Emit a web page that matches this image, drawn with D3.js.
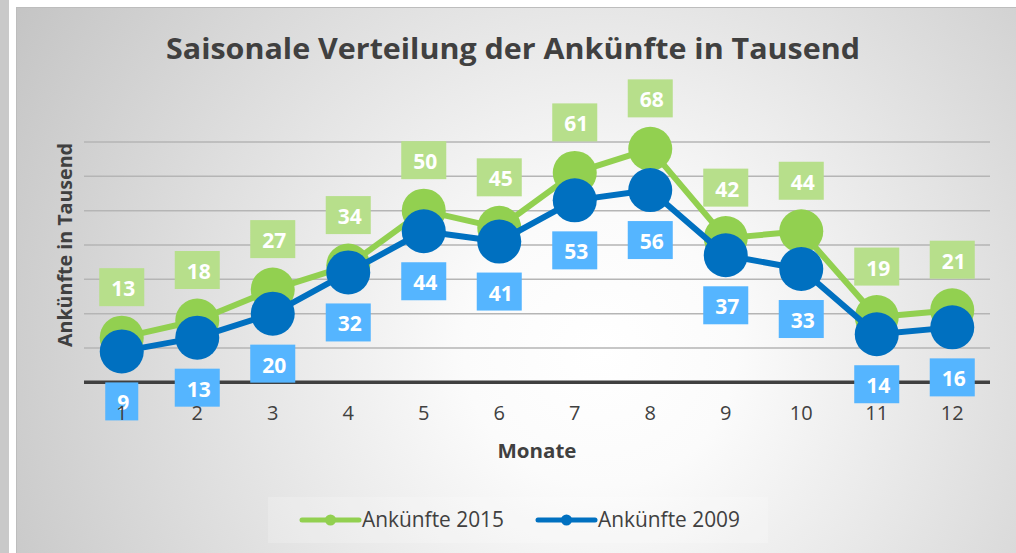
<!DOCTYPE html>
<html><head><meta charset="utf-8">
<script src="https://cdn.jsdelivr.net/npm/d3@7/dist/d3.min.js"></script>
<style>html,body{margin:0;padding:0;background:#fff;overflow:hidden}svg{display:block}</style>
</head><body>
<svg id="c" width="1016" height="553"></svg>
<script>
const months = [1,2,3,4,5,6,7,8,9,10,11,12];
const values2015 = [13,18,27,34,50,45,61,68,42,44,19,21];
const values2009 = [9,13,20,32,44,41,53,56,37,33,14,16];
const seriesNames = ["Ankünfte 2015","Ankünfte 2009"];
const yTicks = [10,20,30,40,50,60,70];
const titleText = "Saisonale Verteilung der Ankünfte in Tausend";
const xTitle = "Monate";
const yTitle = "Ankünfte in Tausend";

const svg = d3.select("#c");
const W = 1016, H = 553;
const defs = svg.append("defs");
const rg = defs.append("radialGradient").attr("id","bg").attr("gradientUnits","userSpaceOnUse")
  .attr("cx",600).attr("cy",350).attr("r",680);
rg.append("stop").attr("offset",0).attr("stop-color","#ffffff");
rg.append("stop").attr("offset",0.2).attr("stop-color","#fbfbfb");
rg.append("stop").attr("offset",1).attr("stop-color","#c4c4c4");

// left strip
svg.append("rect").attr("x",0).attr("y",0).attr("width",9).attr("height",H).attr("fill","#c9c9c9");
// chart box
svg.append("rect").attr("x",16).attr("y",7).attr("width",W-16).attr("height",H-7).attr("fill","url(#bg)");
svg.append("line").attr("x1",16).attr("x2",W).attr("y1",7.5).attr("y2",7.5).attr("stroke","#bdbdbd").attr("stroke-width",1);
svg.append("line").attr("x1",16.5).attr("x2",16.5).attr("y1",7).attr("y2",H).attr("stroke","#bdbdbd").attr("stroke-width",1);

const x = d3.scaleBand().domain(months).range([84,990]);
const y = d3.scaleLinear().domain([0,70]).range([382.3,142]);
const cx = d => x(d) + x.bandwidth()/2;

// legend background
svg.append("rect").attr("x",268).attr("y",497).attr("width",500).attr("height",46).attr("fill","#ffffff").attr("opacity",0.2);

// gridlines
svg.append("g").selectAll("line").data(yTicks).join("line")
  .attr("x1",84).attr("x2",990).attr("y1",d=>y(d)).attr("y2",d=>y(d))
  .attr("stroke","#b5b5b5").attr("stroke-width",1.5);
// baseline
svg.append("line").attr("x1",84).attr("x2",990).attr("y1",y(0)).attr("y2",y(0))
  .attr("stroke","#404040").attr("stroke-width",3.6);

const colors = ["#92d050","#0070c0"];
const labelColors = ["#b7df8b","#55b5ff"];
const data = [values2015, values2009];

const line = d3.line().x((d,i)=>cx(months[i])).y(d=>y(d));
data.forEach((vals,si)=>{
  const g = svg.append("g");
  g.append("path").datum(vals).attr("d",line).attr("fill","none")
    .attr("stroke",colors[si]).attr("stroke-width",6).attr("stroke-linejoin","round");
  g.selectAll("circle").data(vals).join("circle")
    .attr("cx",(d,i)=>cx(months[i])).attr("cy",d=>y(d)).attr("r",22).attr("fill",colors[si]);
});

// data labels
data.forEach((vals,si)=>{
  const g = svg.append("g");
  vals.forEach((v,i)=>{
    const px = cx(months[i]);
    const py = y(v) + (si===0 ? -50.5 : 50);
    const lg = g.append("g");
    const r = lg.append("rect").attr("fill",labelColors[si]);
    const t = lg.append("text").attr("x",px+1.5).attr("y",py+1).attr("text-anchor","middle")
      .attr("dominant-baseline","central")
      .attr("font-family","'Open Sans', sans-serif").attr("font-weight","bold").attr("font-size",21)
      .attr("fill","#ffffff").text(v);
    const w = t.node().getComputedTextLength() + 21;
    r.attr("x",px - w/2).attr("y",py-19).attr("width",w).attr("height",38);
  });
});

// x tick labels
svg.append("g").selectAll("text").data(months).join("text")
  .attr("x",d=>cx(d)).attr("y",420).attr("text-anchor","middle")
  .attr("font-family","'Open Sans', sans-serif").attr("font-size",20).attr("fill","#404040").text(d=>d);

// titles
svg.append("text").attr("x",513).attr("y",59).attr("text-anchor","middle")
  .attr("font-family","'Open Sans', sans-serif").attr("font-weight","bold").attr("font-size",28)
  .attr("fill","#404040").attr("textLength",694).attr("lengthAdjust","spacingAndGlyphs").text(titleText);
svg.append("text").attr("x",537).attr("y",458).attr("text-anchor","middle")
  .attr("font-family","'Open Sans', sans-serif").attr("font-weight","bold").attr("font-size",19)
  .attr("fill","#404040").attr("textLength",79).attr("lengthAdjust","spacingAndGlyphs").text(xTitle);
svg.append("text").attr("transform","translate(72,245) rotate(-90)").attr("text-anchor","middle")
  .attr("font-family","'Open Sans', sans-serif").attr("font-weight","bold").attr("font-size",19)
  .attr("fill","#404040").attr("textLength",204).attr("lengthAdjust","spacingAndGlyphs").text(yTitle);

// legend
const legX = [302, 538];
seriesNames.forEach((n,i)=>{
  const g = svg.append("g");
  g.append("line").attr("x1",legX[i]).attr("x2",legX[i]+57).attr("y1",520).attr("y2",520)
    .attr("stroke",colors[i]).attr("stroke-width",5).attr("stroke-linecap","round");
  g.append("circle").attr("cx",legX[i]+28.5).attr("cy",520).attr("r",5.5).attr("fill",colors[i]);
  g.append("text").attr("x",legX[i]+60).attr("y",527).attr("font-family","'Open Sans', sans-serif")
    .attr("font-size",21).attr("fill","#404040").attr("textLength",142).attr("lengthAdjust","spacingAndGlyphs").text(n);
});
</script>
</body></html>
